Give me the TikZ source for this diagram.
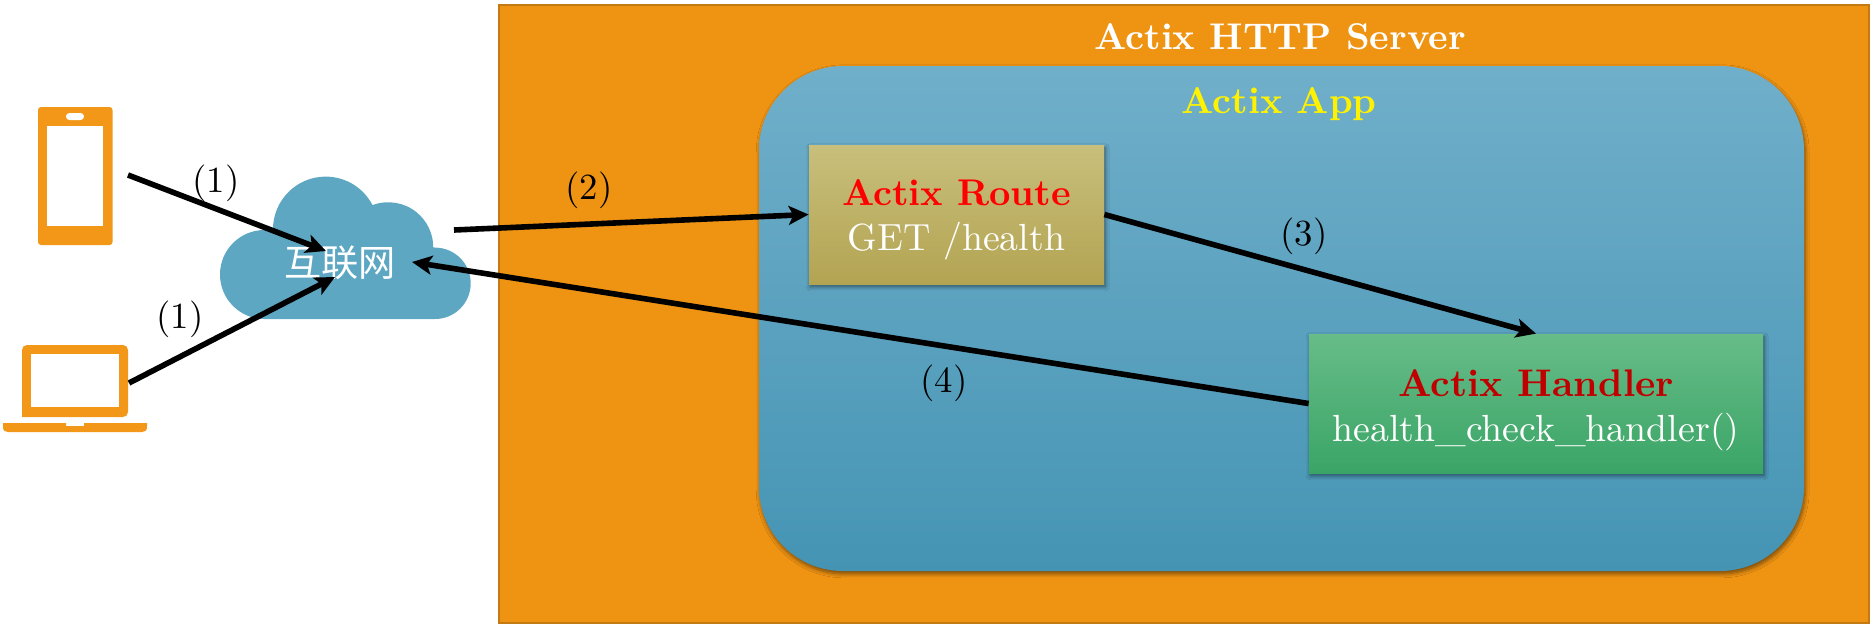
\documentclass[tikz,border=0pt]{standalone}
\usepackage{fontspec}
\setmainfont{lmroman10-regular}[Extension=.otf,BoldFont=lmroman10-bold]
\newfontfamily\cjkfont{Noto Sans CJK SC}
\usetikzlibrary{arrows.meta,shadows.blur}
\definecolor{srvfill}{HTML}{EF9313}
\definecolor{srvline}{HTML}{C47A12}
\definecolor{devcol}{HTML}{F39719}
\definecolor{cloudcol}{HTML}{5DA7C3}
\definecolor{apptop}{HTML}{70AFCA}
\definecolor{appbot}{HTML}{4594B4}
\definecolor{routetop}{HTML}{C8BF7C}
\definecolor{routebot}{HTML}{B3A452}
\definecolor{handtop}{HTML}{67BC88}
\definecolor{handbot}{HTML}{3AA566}
\definecolor{darkred}{HTML}{C00000}
\newcommand{\wideus}{\scalebox{1.08}[1]{\_}}
\tikzset{
  softshadow/.style={blur shadow={shadow xshift=0.6pt,shadow yshift=-1.4pt,shadow blur radius=2pt,shadow opacity=50,shadow blur steps=6}},
  titletext/.style={inner sep=0pt,font=\fontsize{18.6}{22.5}\selectfont\bfseries},
  boxnode/.style={rectangle,inner sep=0pt,softshadow,align=center,text=white,font=\fontsize{18.9}{22.5}\selectfont},
  steplabel/.style={inner sep=0pt,text=black,font=\fontsize{18.4}{20}\selectfont},
  flow/.style={line width=2.8pt,-{Stealth[length=10pt,width=9.5pt,inset=2.4pt]}},
  device/.style={fill=devcol,draw=none}
}
\begin{document}
\begin{tikzpicture}[x=0.5pt,y=-0.5pt]
\useasboundingbox (0,0) rectangle (1872,623);
% server frame
\node (server) at (1183.5,313.5) [rectangle,draw=srvline,line width=1pt,fill=srvfill,minimum width=685pt,minimum height=309pt,inner sep=0pt] {};
\node (servertitle) at (1280,37) [titletext,text=white] {Actix HTTP Server};
% app
\node (app) at (1281.5,318.5) [rectangle,rounded corners=42pt,top color=apptop,bottom color=appbot,minimum width=522.5pt,minimum height=252.5pt,inner sep=0pt,softshadow] {};
\node (apptitle) at (1279,104) [titletext,text=yellow] {Actix App};
% boxes
\node (route) at (956.5,214.5) [boxnode,top color=routetop,bottom color=routebot,minimum width=147.5pt,minimum height=69.5pt] {\rule{0pt}{18.6pt}{\fontsize{18.6}{22.5}\selectfont\bfseries\color{red}Actix Route}\\GET /health};
\node (handler) at (1536,403.5) [boxnode,top color=handtop,bottom color=handbot,minimum width=227pt,minimum height=69.5pt] {\rule{0pt}{19.8pt}{\fontsize{19.25}{22.5}\selectfont\bfseries\color{darkred}Actix Handler}\hspace{1.5pt}\\health\wideus check\wideus handler()\hspace{1.5pt}};
% phone
\fill[device,rounded corners=1.5pt] (38,107) rectangle (112.5,245);
\fill[white] (47,126) rectangle (103,226);
\fill[white,rounded corners=1.7pt] (66,113) rectangle (84,120);
% laptop
\fill[device,rounded corners=2.5pt] (22,417) -- (22,345) -- (128,345) -- (128,417) [sharp corners] -- cycle;
\fill[white] (31,354) rectangle (119,407);
\fill[device] (3,423) -- (66,423) -- (66,426) -- (84,426) -- (84,423) -- (147,423) -- (147,427)
  .. controls (147,430.5) and (145,432) .. (142,432) -- (8,432) .. controls (5,432) and (3,430.5) .. (3,427) -- cycle;
% cloud
\fill[cloudcol] (435,319) -- (264.5,319)
  arc[start angle=90,end angle=270,radius=44.5]
  -- (273,229.3) arc[start angle=180,end angle=333.3,radius=52.7]
  -- (372.7,205) arc[start angle=249.8,end angle=360,radius=45]
  -- (435,247.6) arc[start angle=270,end angle=450,radius=35.7] -- cycle;
\node (cloud) at (340,263) [inner sep=0pt,text=white,font=\cjkfont\fontsize{18.6}{22}\selectfont] {互联网};
% connector ends
\coordinate (phoneout) at (128,175);
\coordinate (laptopout) at (129,383);
\coordinate (cloudinA) at (326,251);
\coordinate (cloudinB) at (335,277);
\coordinate (cloudout) at (454,230);
\coordinate (cloudback) at (412,262);
\draw[flow] (phoneout) -- (cloudinA);
\draw[flow] (laptopout) -- (cloudinB);
\draw[flow] (cloudout) -- (route.west);
\draw[flow] (route.east) -- (handler.north);
\draw[flow] (handler.west) -- (cloudback);
% labels
\node (lab1a) at (216,183.5) [steplabel] {(1)};
\node (lab1b) at (180,319.5) [steplabel] {(1)};
\node (lab2) at (589,190.5) [steplabel] {(2)};
\node (lab3) at (1304,236.5) [steplabel] {(3)};
\node (lab4) at (944,383.5) [steplabel] {(4)};
\end{tikzpicture}
\end{document}
